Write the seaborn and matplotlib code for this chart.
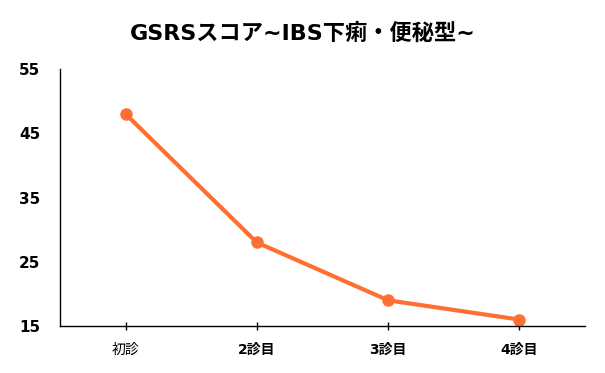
import numpy as np
import pandas as pd
import seaborn as sns
import matplotlib
matplotlib.use("Agg")
import matplotlib.pyplot as plt

visits = ["初診", "2診目", "3診目", "4診目"]
scores = [48, 28, 19, 16]
y_ticks = [15, 25, 35, 45, 55]

sns.set_style("white")
plt.rcParams['font.family'] = ['DejaVu Sans', 'Noto Sans CJK JP']
plt.rcParams['text.color'] = 'black'
plt.rcParams['xtick.color'] = 'black'
plt.rcParams['ytick.color'] = 'black'

df = pd.DataFrame({"visit": visits, "score": scores})

fig = plt.figure(figsize=(6.05, 3.73), dpi=100)
ax = fig.add_axes([0.099, 0.126, 0.868, 0.689])

sns.lineplot(data=df, x="visit", y="score", sort=False, color="#FF6F31",
             linewidth=3, marker="o", markersize=9, markeredgewidth=0, ax=ax)

ax.set_xlim(-0.5, 3.5)
ax.set_ylim(15, 55)
ax.set_yticks(y_ticks)
ax.set_xlabel("")
ax.set_ylabel("")
sns.despine(ax=ax)
for s in ["left", "bottom"]:
    ax.spines[s].set_color("black")
    ax.spines[s].set_linewidth(1)

ax.tick_params(axis="y", left=False, length=0, pad=14, labelsize=11)
ax.tick_params(axis="x", bottom=True, direction="inout", length=6, width=1,
               color="black", pad=9, labelsize=10)
for lbl in ax.get_yticklabels():
    lbl.set_fontweight("bold")
for lbl in ax.get_xticklabels()[1:]:
    lbl.set_fontweight("bold")

fig.suptitle("GSRSスコア~IBS下痢・便秘型~", y=0.94, fontsize=16, fontweight="bold")

fig.savefig("out.png", dpi=100)
